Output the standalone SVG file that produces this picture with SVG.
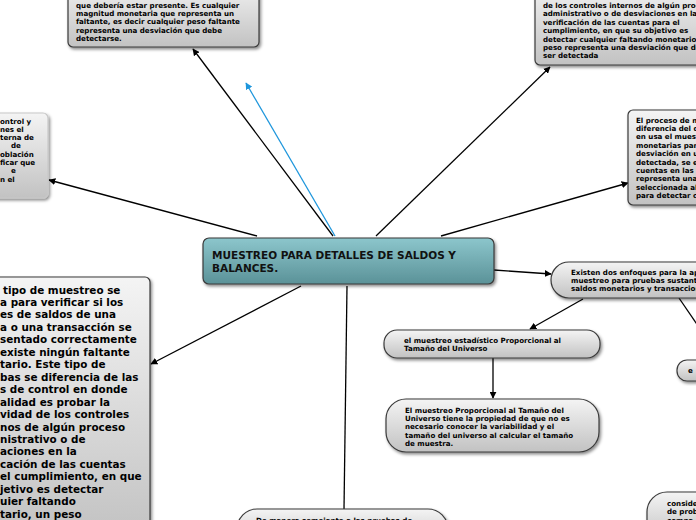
<svg xmlns="http://www.w3.org/2000/svg" width="696" height="520" viewBox="0 0 696 520">
<defs>
<linearGradient id="gGray" x1="0" y1="0" x2="0" y2="1">
<stop offset="0" stop-color="#f4f4f4"/>
<stop offset="1" stop-color="#c2c2c2"/>
</linearGradient>
<linearGradient id="gTeal" x1="0" y1="0" x2="0" y2="1">
<stop offset="0" stop-color="#8cc6cc"/>
<stop offset="1" stop-color="#5b9298"/>
</linearGradient>
<filter id="sh" x="-10%" y="-10%" width="130%" height="130%">
<feDropShadow dx="1.5" dy="2" stdDeviation="1.5" flood-color="#000" flood-opacity="0.45"/>
</filter>
<marker id="ah" viewBox="0 0 10 10" refX="9" refY="5" markerWidth="7" markerHeight="7" orient="auto" markerUnits="userSpaceOnUse">
<path d="M0,0 L10,5 L0,10 z" fill="#000"/>
</marker>
<marker id="ahb" viewBox="0 0 10 10" refX="9" refY="5" markerWidth="7" markerHeight="7" orient="auto" markerUnits="userSpaceOnUse">
<path d="M0,0 L10,5 L0,10 z" fill="#1e96dc"/>
</marker>
</defs>
<style>
.n{fill:url(#gGray);stroke:#3a3a3a;stroke-width:1.2;filter:url(#sh)}
.c{fill:url(#gTeal);stroke:#3a3a3a;stroke-width:1.2;filter:url(#sh)}
.t{font-family:"DejaVu Sans","Liberation Sans",sans-serif;font-weight:bold;font-size:7.1px;fill:#000}
.tb{font-family:"DejaVu Sans","Liberation Sans",sans-serif;font-weight:bold;font-size:10.4px;fill:#000}
.tc{font-family:"DejaVu Sans","Liberation Sans",sans-serif;font-weight:bold;font-size:10.5px;fill:#111}
.l{stroke:#000;stroke-width:1.3;fill:none;marker-end:url(#ah)}
.lb{stroke:#1e96dc;stroke-width:1.3;fill:none;marker-end:url(#ahb)}
</style>
<g id="connectors">
<line class="l" x1="333" y1="236" x2="193" y2="49"/>
<line class="lb" x1="335" y1="236" x2="246" y2="83"/>
<line class="l" x1="376" y1="236" x2="550" y2="67"/>
<line class="l" x1="257" y1="236" x2="49" y2="180"/>
<line class="l" x1="441" y1="236" x2="628" y2="183"/>
<line class="l" x1="301" y1="286" x2="151" y2="364"/>
<line stroke="#000" stroke-width="1.3" x1="347" y1="286" x2="344" y2="509"/>
<line class="l" x1="494" y1="270" x2="551" y2="274"/>
<line class="l" x1="583" y1="299" x2="530" y2="329"/>
<line stroke="#000" stroke-width="1.3" x1="679" y1="298" x2="720" y2="358"/>
<line class="l" x1="493" y1="358" x2="493" y2="398"/>
</g>
<g id="node-top-left">
<rect class="n" x="68" y="-20" width="191" height="67" rx="5"/>
<text class="t" x="76" y="7.5">que debería estar presente. Es cualquier</text>
<text class="t" x="76" y="16">magnitud monetaria que representa un</text>
<text class="t" x="76" y="24.4">faltante, es decir cualquier peso faltante</text>
<text class="t" x="76" y="32.8">representa una desviación que debe</text>
<text class="t" x="76" y="41.2">detectarse.</text>
</g>
<g id="node-top-right">
<rect class="n" x="535" y="-20" width="180" height="85" rx="5"/>
<text class="t" x="543" y="8">de los controles internos de algún proc</text>
<text class="t" x="543" y="16.4">administrativo o de desviaciones en la</text>
<text class="t" x="543" y="24.8">verificación de las cuentas para el</text>
<text class="t" x="543" y="33.2">cumplimiento, en que su objetivo es</text>
<text class="t" x="543" y="41.6">detectar cualquier faltando monetario,</text>
<text class="t" x="543" y="50">peso representa una desviación que de</text>
<text class="t" x="543" y="58.4">ser detectada</text>
</g>
<g id="node-left">
<rect class="n" style="stroke:#c8c8c8" x="-20" y="113" width="68" height="85" rx="5"/>
<text class="t" x="0" y="123.5">ontrol y</text>
<text class="t" x="0" y="131.8">nes el</text>
<text class="t" x="0" y="140.1">terna de</text>
<text class="t" x="11" y="148.4">de</text>
<text class="t" x="0" y="156.7">oblación</text>
<text class="t" x="0" y="165">ficar que</text>
<text class="t" x="11" y="173.3">e</text>
<text class="t" x="0" y="181.6">n el</text>
</g>
<g id="node-right">
<rect class="n" x="628" y="110" width="90" height="95" rx="5"/>
<text class="t" x="636" y="122.5">El proceso de m</text>
<text class="t" x="636" y="130.9">diferencia del d</text>
<text class="t" x="636" y="139.3">en usa el muest</text>
<text class="t" x="636" y="147.7">monetarias par</text>
<text class="t" x="636" y="156.1">desviación en u</text>
<text class="t" x="636" y="164.5">detectada, se e</text>
<text class="t" x="636" y="172.9">cuentas en las</text>
<text class="t" x="636" y="181.3">representa una</text>
<text class="t" x="636" y="189.7">seleccionada al</text>
<text class="t" x="636" y="198.1">para detectar c</text>
</g>
<g id="node-central">
<rect class="c" x="203" y="238" width="291" height="46" rx="6"/>
<text class="tc" x="212" y="259">MUESTREO PARA DETALLES DE SALDOS Y</text>
<text class="tc" x="212" y="271.5">BALANCES.</text>
</g>
<g id="node-bottom-left">
<rect class="n" x="-20" y="277" width="170" height="260" rx="5"/>
<text class="tb" x="3" y="293.5">tipo de muestreo se</text>
<text class="tb" x="0" y="306">a para verificar si los</text>
<text class="tb" x="0" y="318.4">es de saldos de una</text>
<text class="tb" x="0" y="330.9">a o una transacción se</text>
<text class="tb" x="0" y="343.3">sentado correctamente</text>
<text class="tb" x="0" y="355.8">existe ningún faltante</text>
<text class="tb" x="0" y="368.2">tario. Este tipo de</text>
<text class="tb" x="0" y="380.7">bas se diferencia de las</text>
<text class="tb" x="0" y="393.1">s de control en donde</text>
<text class="tb" x="0" y="405.6">alidad es probar la</text>
<text class="tb" x="0" y="418">vidad de los controles</text>
<text class="tb" x="0" y="430.5">nos de algún proceso</text>
<text class="tb" x="0" y="442.9">nistrativo o de</text>
<text class="tb" x="0" y="455.4">aciones en la</text>
<text class="tb" x="0" y="467.8">cación de las cuentas</text>
<text class="tb" x="0" y="480.3">el cumplimiento, en que</text>
<text class="tb" x="0" y="492.7">jetivo es detectar</text>
<text class="tb" x="0" y="505.2">uier faltando</text>
<text class="tb" x="0" y="517.6">tario, un peso</text>
</g>
<g id="node-enfoques">
<rect class="n" x="551" y="262" width="180" height="36" rx="18"/>
<text class="t" x="571" y="274.5">Existen dos enfoques para la ap</text>
<text class="t" x="571" y="282.8">muestreo para pruebas sustanti</text>
<text class="t" x="571" y="291.1">saldos monetarios y transaccion</text>
</g>
<g id="node-estadistico">
<rect class="n" x="384" y="330" width="216" height="28" rx="13"/>
<text class="t" x="404" y="343">el muestreo estadístico Proporcional al</text>
<text class="t" x="404" y="351.4">Tamaño del Universo</text>
</g>
<g id="node-proporcional">
<rect class="n" x="386" y="399" width="213" height="53" rx="20"/>
<text class="t" x="405" y="412.5">El muestreo Proporcional al Tamaño del</text>
<text class="t" x="405" y="420.9">Universo tiene la propiedad de que no es</text>
<text class="t" x="405" y="429.3">necesario conocer la variabilidad y el</text>
<text class="t" x="405" y="437.7">tamaño del universo al calcular el tamaño</text>
<text class="t" x="405" y="446.1">de muestra.</text>
</g>
<g id="node-bottom">
<rect class="n" x="237" y="509" width="211" height="40" rx="20"/>
<text class="t" x="256" y="522.5">De manera semejante a las pruebas de</text>
</g>
<g id="node-e">
<rect class="n" x="677" y="360" width="40" height="21" rx="10"/>
<text class="t" x="688" y="373">e</text>
</g>
<g id="node-bottom-right">
<rect class="n" x="647" y="492" width="80" height="50" rx="20"/>
<text class="t" x="667" y="506">conside</text>
<text class="t" x="667" y="514.4">de prob</text>
<text class="t" x="667" y="522.8">compa</text>
</g>
</svg>
